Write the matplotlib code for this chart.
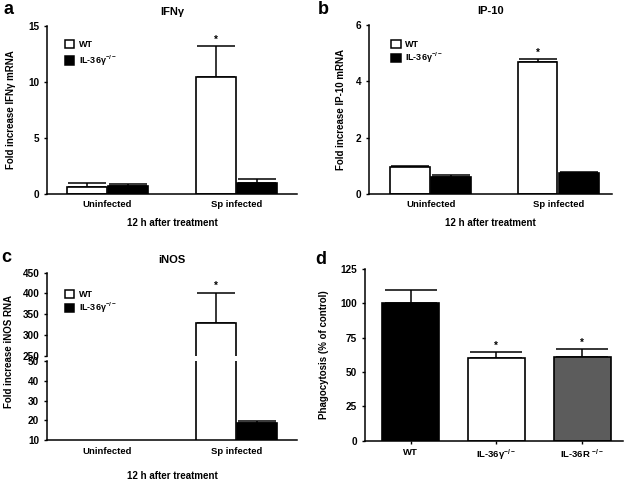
import numpy as np
import matplotlib
matplotlib.use('Agg')
import matplotlib.pyplot as plt
from matplotlib.patches import Patch

plt.rcParams['font.family'] = ['Liberation Sans', 'DejaVu Sans']
plt.rcParams['font.weight'] = 'bold'
plt.rcParams['mathtext.fontset'] = 'custom'
plt.rcParams['mathtext.rm'] = 'Liberation Sans:bold'
plt.rcParams['mathtext.it'] = 'Liberation Sans:bold'
plt.rcParams['mathtext.bf'] = 'Liberation Sans:bold'
plt.rcParams['mathtext.default'] = 'rm'

#%% data
groups = ['Uninfected', 'Sp infected']

ifng_wt = [0.62, 10.45]
ifng_wt_err = [0.35, 2.75]
ifng_ko = [0.70, 1.00]
ifng_ko_err = [0.15, 0.30]

ip10_wt = [0.97, 4.70]
ip10_wt_err = [0.03, 0.08]
ip10_ko = [0.62, 0.75]
ip10_ko_err = [0.04, 0.03]

inos_wt = [1.0, 329]
inos_wt_err = [0.2, 73]
inos_ko = [1.0, 18.6]
inos_ko_err = [0.2, 0.9]

phago_groups = ['WT', 'IL-36γ$^{-/-}$', 'IL-36R $^{-/-}$']
phago = [100, 60, 61]
phago_err = [10, 4.6, 5.7]
phago_colors = ['black', 'white', '#5c5c5c']

legend_labels = ['WT', 'IL-36γ$^{-/-}$']

#%% figure
W, H = 625, 480
fig = plt.figure(figsize=(W / 100, H / 100), dpi=100)


def px_axes(left, top, right, bottom):
    return fig.add_axes([left / W, 1 - bottom / H, (right - left) / W, (bottom - top) / H])


def style(ax, xticks=False, xpad=4.5):
    for s in ['top', 'right']:
        ax.spines[s].set_visible(False)
    for s in ['left', 'bottom']:
        ax.spines[s].set_linewidth(1.1)
    ax.tick_params(axis='y', direction='out', length=2.5, width=1, labelsize=7.2, pad=3)
    if xticks:
        ax.tick_params(axis='x', direction='out', length=2.5, width=1, labelsize=6.8, pad=2.5)
    else:
        ax.tick_params(axis='x', length=0, labelsize=6.8, pad=xpad)


def pair_bars(ax, wt, wt_err, ko, ko_err, capsize=14):
    x = np.arange(len(groups))
    off = 0.162
    bw = 0.31
    ax.bar(x - off, wt, bw, color='white', edgecolor='black', linewidth=1.2, zorder=2)
    ax.bar(x + off, ko, bw, color='black', edgecolor='black', linewidth=1.2, zorder=2)
    ax.errorbar(x - off, wt, yerr=[np.zeros(len(wt)), wt_err], fmt='none', ecolor='black',
                elinewidth=1.1, capsize=capsize, capthick=1.1, zorder=1)
    ax.errorbar(x + off, ko, yerr=[np.zeros(len(ko)), ko_err], fmt='none', ecolor='black',
                elinewidth=1.1, capsize=capsize, capthick=1.1, zorder=1)
    return x, off


def add_legend(ax, x0, y0, spacing):
    handles = [Patch(facecolor='white', edgecolor='black', linewidth=1.1),
               Patch(facecolor='black', edgecolor='black', linewidth=1.1)]
    ax.legend(handles, legend_labels, loc='upper left', bbox_to_anchor=(x0, y0), frameon=False,
              fontsize=6.5, handlelength=1.1, handleheight=1.0, handletextpad=0.5,
              labelspacing=spacing, borderaxespad=0, borderpad=0)


#%% a
ax = px_axes(47, 25.7, 297, 194)
x, off = pair_bars(ax, ifng_wt, ifng_wt_err, ifng_ko, ifng_ko_err)
ax.annotate('*', (x[1] - off, ifng_wt[1] + ifng_wt_err[1]), xytext=(0, 1), textcoords='offset points',
            ha='center', va='bottom', fontsize=7)
ax.set_xlim(-0.469, 1.469)
ax.set_ylim(0, 15)
ax.set_yticks([0, 5, 10, 15])
ax.set_xticks(x)
ax.set_xticklabels(groups)
style(ax)
ax.set_title('IFNγ', fontsize=8, fontweight='bold', pad=8)
ax.set_ylabel('Fold increase IFNγ mRNA', fontsize=7, fontweight='bold')
ax.yaxis.set_label_coords(-0.122, 0.5)
ax.set_xlabel('12 h after treatment', fontsize=7, fontweight='bold', labelpad=6.5)
add_legend(ax, 0.07, 0.915, 0.45)

#%% b
ax = px_axes(369, 25, 612, 194)
x, off = pair_bars(ax, ip10_wt, ip10_wt_err, ip10_ko, ip10_ko_err)
ax.annotate('*', (x[1] - off, ip10_wt[1] + ip10_wt_err[1]), xytext=(0, 1), textcoords='offset points',
            ha='center', va='bottom', fontsize=7)
ax.set_xlim(-0.482, 1.42)
ax.set_ylim(0, 6)
ax.set_yticks([0, 2, 4, 6])
ax.set_xticks(x)
ax.set_xticklabels(groups)
style(ax)
ax.set_title('IP-10', fontsize=8, fontweight='bold', pad=8)
ax.set_ylabel('Fold increase IP-10 mRNA', fontsize=7, fontweight='bold')
ax.yaxis.set_label_coords(-0.093, 0.5)
ax.set_xlabel('12 h after treatment', fontsize=7, fontweight='bold', labelpad=6.5)
add_legend(ax, 0.09, 0.91, 0.15)

#%% c (broken axis)
ax_up = px_axes(47, 272.7, 297, 355.7)
ax_lo = px_axes(47, 361.3, 297, 440)
for a_ in [ax_up, ax_lo]:
    x, off = pair_bars(a_, inos_wt, inos_wt_err, inos_ko, inos_ko_err)
    a_.set_xlim(-0.469, 1.469)
    style(a_, xpad=5)
ax_up.annotate('*', (x[1] - off, inos_wt[1] + inos_wt_err[1]), xytext=(0, 1), textcoords='offset points',
               ha='center', va='bottom', fontsize=7)
ax_up.set_ylim(250, 450)
ax_up.set_yticks([250, 300, 350, 400, 450])
ax_up.spines['bottom'].set_visible(False)
ax_up.set_xticks([])
ax_lo.set_ylim(10, 50)
ax_lo.set_yticks([10, 20, 30, 40, 50])
ax_lo.set_xticks(x)
ax_lo.set_xticklabels(groups)
ax_up.set_title('iNOS', fontsize=8, fontweight='bold', pad=7)
ax_lo.set_xlabel('12 h after treatment', fontsize=7, fontweight='bold', labelpad=10.5)
fig.text(9 / W, 1 - 351 / H, 'Fold increase iNOS RNA', rotation=90, fontsize=7, fontweight='bold',
         ha='center', va='center')
add_legend(ax_up, 0.07, 0.79, 0.15)

#%% d
ax = px_axes(365, 269, 623, 440.7)
xd = np.arange(len(phago_groups))
ax.bar(xd, phago, 0.665, color=phago_colors, edgecolor='black', linewidth=1.2, zorder=2)
ax.errorbar(xd, phago, yerr=[np.zeros(len(phago)), phago_err], fmt='none', ecolor='black',
            elinewidth=1.1, capsize=19, capthick=1.1, zorder=1)
for i in range(1, len(phago)):
    ax.annotate('*', (xd[i], phago[i] + phago_err[i]), xytext=(0, 1), textcoords='offset points',
                ha='center', va='bottom', fontsize=7)
ax.set_xlim(-0.531, 2.478)
ax.set_ylim(0, 125)
ax.set_yticks([0, 25, 50, 75, 100, 125])
ax.set_xticks(xd)
ax.set_xticklabels(phago_groups)
style(ax, xticks=True)
ax.set_ylabel('Phagocytosis (% of control)', fontsize=7, fontweight='bold')
ax.yaxis.set_label_coords(-0.138, 0.5)

#%% panel letters
for lab, px, py in [('a', 8, 10), ('b', 323, 10), ('c', 6, 258), ('d', 321, 259)]:
    fig.text(px / W, 1 - py / H, lab, fontsize=13, fontweight='bold', ha='center', va='center')

fig.savefig('out.png', dpi=100)
plt.close()
